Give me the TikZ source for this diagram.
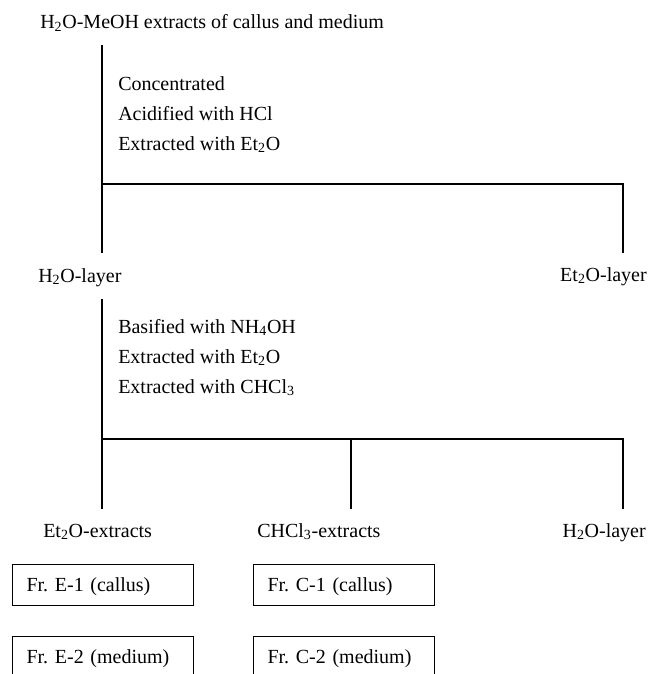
\documentclass[tikz,border=0pt]{standalone}
\usepackage{fontspec}
\setmainfont{Liberation Serif}
\begin{document}
\begin{tikzpicture}[x=0.75pt,y=-0.75pt,
  lbl/.style={inner sep=0pt, anchor=base west, font=\fontsize{15pt}{18pt}\selectfont},
  rlbl/.style={lbl, anchor=base east},
  link/.style={line width=0.8pt},
  frbox/.style={draw, line width=0.8pt, anchor=north west, minimum height=30.75pt,
    inner xsep=10.5pt, inner ysep=0pt, text width=115pt, text height=12.5pt, text depth=3pt,
    font=\fontsize{15pt}{18pt}\selectfont}]
\useasboundingbox (0,0) rectangle (648,674);
\clip (0,0) rectangle (648,674);

% texts
\node[lbl] (src) at (40,29) {H\textsubscript{2}O-MeOH extracts of callus and medium};
\node[lbl] (s1a) at (118,90) {Concentrated};
\node[lbl] (s1b) at (118,120) {Acidified with HCl};
\node[lbl] (s1c) at (118,150) {Extracted with Et\textsubscript{2}O};
\node[lbl] (aq1) at (38,282) {H\textsubscript{2}O-layer};
\node[rlbl] (et1) at (647,281) {Et\textsubscript{2}O-layer};
\node[lbl] (s2a) at (118,333) {Basified with NH\textsubscript{4}OH};
\node[lbl] (s2b) at (118,363) {Extracted with Et\textsubscript{2}O};
\node[lbl] (s2c) at (118,393) {Extracted with CHCl\textsubscript{3}};
\node[lbl] (ex1) at (43,537) {Et\textsubscript{2}O-extracts};
\node[lbl] (ex2) at (257,537) {CHCl\textsubscript{3}-extracts};
\node[rlbl] (aq2) at (646,537) {H\textsubscript{2}O-layer};

% boxes
\node[frbox] (e1) at (12,564) {Fr.\ E-1 (callus)};
\node[frbox] (c1) at (253,564) {Fr.\ C-1 (callus)};
\node[frbox] (e2) at (12,636) {Fr.\ E-2 (medium)};
\node[frbox] (c2) at (253,636) {Fr.\ C-2 (medium)};

% tree 1
\coordinate (v1top) at (102,45);
\coordinate (j1) at (102,184);
\coordinate (j1r) at (623,184);
\coordinate (v1bot) at (102,253);
\coordinate (v1rbot) at (623,253);
\draw[link] (v1top) -- (v1bot);
\draw[link] (j1) -- (j1r) -- (v1rbot);

% tree 2
\coordinate (v2top) at (102,299);
\coordinate (j2) at (102,439);
\coordinate (j2m) at (351,439);
\coordinate (j2r) at (623,439);
\coordinate (v2bot) at (102,509);
\coordinate (v2mbot) at (351,509);
\coordinate (v2rbot) at (623,509);
\draw[link] (v2top) -- (v2bot);
\draw[link] (j2) -- (j2r) -- (v2rbot);
\draw[link] (j2m) -- (v2mbot);
\end{tikzpicture}
\end{document}
